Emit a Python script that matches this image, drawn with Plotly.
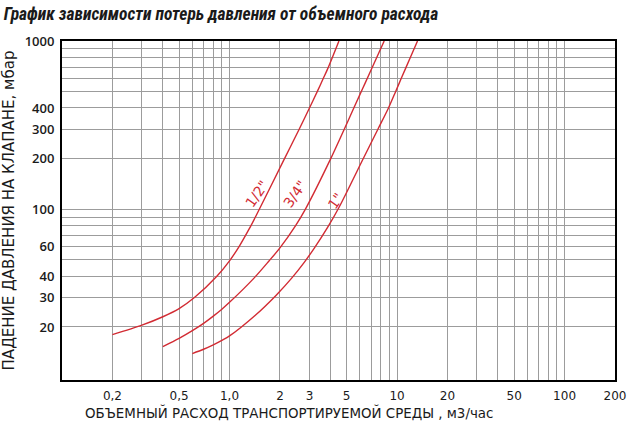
import math
import plotly.graph_objects as go

# ---------------- text ----------------
title_text = "График зависимости потерь давления от объемного расхода"
x_title = "ОБЪЕМНЫЙ РАСХОД ТРАНСПОРТИРУЕМОЙ СРЕДЫ , м3/час"
y_title = "ПАДЕНИЕ ДАВЛЕНИЯ НА КЛАПАНЕ, мбар"

# ---------------- axes ----------------
x_grid_vals = [0.2, 0.3, 0.4, 0.5, 0.6, 0.7, 0.8, 0.9, 1.0,
               2, 3, 4, 5, 6, 7, 8, 9, 10,
               20, 30, 40, 50, 60, 70, 80, 90, 100, 200]
x_label_vals = [0.2, 0.5, 1.0, 2, 3, 5, 10, 20, 50, 100, 200]
x_label_text = ["0,2", "0,5", "1,0", "2", "3", "5", "10", "20", "50", "100", "200"]

y_grid_vals = [20, 30, 40, 50, 60, 70, 80, 90, 100,
               200, 300, 400, 500, 600, 700, 800, 900, 1000]
y_label_vals = [20, 30, 40, 60, 100, 200, 300, 400, 1000]
y_label_text = ["20", "30", "40", "60", "100", "200", "300", "400", "1000"]

x_min, x_max = 0.1, 200
y_min, y_max = 9.68, 1000

# ---------------- data ----------------
series_names = ['1/2"', '3/4"', '1"']

flow_half = [0.2, 0.3, 0.4, 0.5, 0.62, 0.84, 1.0, 1.15, 1.3, 1.45,
             2.1, 2.6, 3.0, 3.36, 3.62, 3.87, 4.5]
dp_half = [18, 20.5, 23.0, 25.7, 30, 40, 49.4, 60.9, 75.4, 92.8,
           194.6, 298, 400, 507, 596, 690, 1000]

flow_3q = [0.4, 0.5, 0.6, 0.7, 0.8, 0.9, 1.0, 1.4, 1.72, 2.0, 2.48, 2.85,
           4.0, 4.81, 5.46, 6.0, 6.45, 7.4, 8.38]
dp_3q = [15.3, 17.1, 19.0, 21.0, 23.2, 25.5, 28.0, 39, 49.3, 59, 80, 101,
         198, 295, 390, 480, 562, 760, 1000]

flow_one = [0.6, 0.7, 0.8, 0.9, 1.0, 1.42, 1.9, 2.35, 2.8, 3.2, 3.85, 4.5,
            6.3, 7.7, 8.89, 9.8, 10.6, 12.02, 13.25]
dp_one = [13.9, 14.74, 15.65, 16.64, 17.69, 23.4, 30.9, 39.0, 48.6, 58.6, 78.0, 102.5,
          201, 300, 400, 500, 600, 800, 1000]

# label anchors (flow, pressure) for the curve captions
label_flow = [1.45, 2.45, 4.3]
label_dp = [124, 124, 112]

RED = "#d22b33"
GRID = "#9c9c9c"
INK = "#1a1a1a"

fig = go.Figure()
for fx, fy in [(flow_half, dp_half), (flow_3q, dp_3q), (flow_one, dp_one)]:
    fig.add_trace(go.Scatter(x=fx, y=fy, mode="lines",
                             line=dict(color=RED, width=1.4, shape="spline", smoothing=0.8),
                             hoverinfo="skip"))


def merge(grid, lab_vals, lab_text):
    vals = sorted(set(grid) | set(lab_vals))
    lut = {round(v, 6): t for v, t in zip(lab_vals, lab_text)}
    return vals, [lut.get(round(v, 6), "") for v in vals]


xv, xt = merge(x_grid_vals, x_label_vals, x_label_text)
yv, yt = merge(y_grid_vals, y_label_vals, y_label_text)

fig.update_layout(
    template="none",
    width=637, height=429,
    margin=dict(l=62, r=22, t=41, b=49, autoexpand=False),
    plot_bgcolor="white", paper_bgcolor="white",
    showlegend=False,
    title=dict(text=title_text, x=0.006, xanchor="left", y=0.967, yanchor="middle",
               font=dict(family="Liberation Sans Narrow, Roboto Condensed, DejaVu Sans Condensed, Liberation Sans",
                         size=17.5, color=INK, weight="bold", style="italic")),
)
fig.update_xaxes(type="log", range=[math.log10(x_min), math.log10(x_max)],
                 automargin=False,
                 tickmode="array", tickvals=xv, ticktext=xt,
                 showgrid=True, gridcolor=GRID, gridwidth=1,
                 showline=True, linecolor="black", linewidth=2, mirror=True,
                 ticks="", zeroline=False, ticklabelstandoff=4,
                 tickfont=dict(family="DejaVu Sans", size=12, color=INK))
fig.update_yaxes(type="log", range=[math.log10(y_min), math.log10(y_max)],
                 automargin=False,
                 tickmode="array", tickvals=yv, ticktext=yt,
                 showgrid=True, gridcolor=GRID, gridwidth=1,
                 showline=True, linecolor="black", linewidth=2, mirror=True,
                 ticks="", zeroline=False, ticklabelstandoff=3,
                 tickfont=dict(family="Open Sans", size=13, color=INK, weight=600))

annotations = [
    dict(text=x_title, xref="paper", yref="paper", x=0.0375, y=-0.097,
         xanchor="left", yanchor="middle", showarrow=False,
         font=dict(family="DejaVu Sans", size=13.4, color=INK)),
    dict(text=y_title, xref="paper", yref="paper", x=-0.096, y=0.5,
         xanchor="center", yanchor="middle", textangle=-90, showarrow=False,
         font=dict(family="DejaVu Sans", size=15, color=INK)),
]
for name, lx, ly in zip(series_names, label_flow, label_dp):
    annotations.append(dict(text=name, x=math.log10(lx), y=math.log10(ly),
                            xref="x", yref="y", showarrow=False, textangle=-55,
                            font=dict(family="DejaVu Sans", size=14, color=RED)))
fig.update_layout(annotations=annotations)

fig.write_html("out.html",
               config={"displayModeBar": False, "staticPlot": True},
               post_script="document.body.style.margin='0';document.body.style.overflow='hidden';")
